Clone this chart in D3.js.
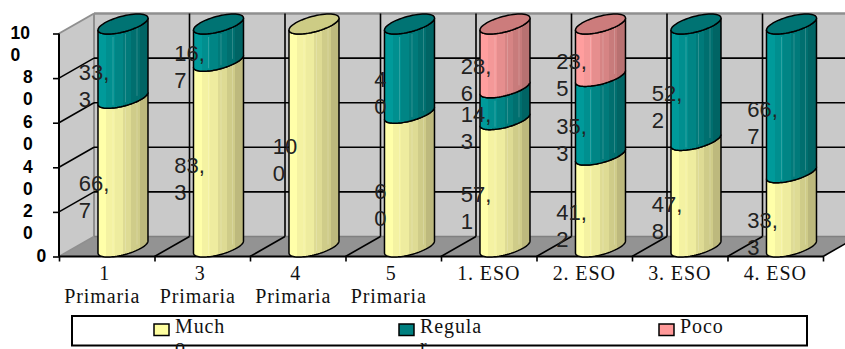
<!DOCTYPE html>
<html><head><meta charset="utf-8">
<script src="https://cdn.jsdelivr.net/npm/d3@7"></script>
<style>html,body{margin:0;padding:0;background:#fff;overflow:hidden}svg{display:block}</style>
</head><body><svg id="c" width="845" height="349"></svg>
<script>
const categories=[["1","Primaria"],["3","Primaria"],["4","Primaria"],["5","Primaria"],["1. ESO"],["2. ESO"],["3. ESO"],["4. ESO"]];
const mucho=[66.7,83.3,100,60,57.1,41.2,47.8,33.3];
const regular=[33.3,16.7,0,40,14.3,35.3,52.2,66.7];
const poco=[0,0,0,0,28.6,23.5,0,0];
const seriesNames=[["Much","o"],["Regula","r"],["Poco"]];
const yTicks=[0,20,40,60,80,100];
const labelLines=[[["66,","7"],["83,","3"],["10","0"],["6","0"],["57,","1"],["41,","2"],["47,","8"],["33,","3"]],
 [["33,","3"],["16,","7"],null,["4","0"],["14,","3"],["35,","3"],["52,","2"],["66,","7"]],
 [null,null,null,null,["28,","6"],["23,","5"],null,null]];
const palette=[
 {stops:["#ffffa9","#f4f2a2","#eeec9f","#dedb94","#cfcc89","#bdb97d"],cap:"#cdcc85",sw:"#ffffa0"},
 {stops:["#009a9a","#008f8f","#008585","#007a7a","#006f6f","#006464"],cap:"#007373",sw:"#008080"},
 {stops:["#ff9e9e","#f49898","#e68e8e","#d68484","#c87b7b","#b87171"],cap:"#cc7c7c",sw:"#ff9999"}];

const svg=d3.select("#c");
const DX=35,DY=-20;
const x=d3.scaleBand().domain(d3.range(categories.length)).range([59,823]);
const y=d3.scaleLinear().domain([0,100]).range([256.5,33.5]);
const rows=categories.map((c,i)=>({i,a:mucho[i],b:regular[i],c:poco[i]}));
const stacked=d3.stack().keys(["a","b","c"])(rows);

// gradients
const defs=svg.append("defs");
palette.forEach((p,k)=>{
 const g=defs.append("linearGradient").attr("id","g"+k).attr("x1",0).attr("x2",1).attr("y1",0).attr("y2",0);
 p.stops.forEach((s,j)=>{
  g.append("stop").attr("offset",j/p.stops.length).attr("stop-color",s);
  g.append("stop").attr("offset",(j+1)/p.stops.length).attr("stop-color",s);
 });
});

// walls
const x0=x.range()[0],x1=x.range()[1],yb=y(0),yt=y(100);
const poly=(pts,f)=>svg.append("polygon").attr("points",pts.map(p=>p.join(",")).join(" ")).attr("fill",f);
poly([[x0+DX,yt+DY],[x1+DX,yt+DY],[x1+DX,yb+DY],[x0+DX,yb+DY]],"#c9c9c9");
poly([[x0,yt],[x0+DX,yt+DY],[x0+DX,yb+DY],[x0,yb]],"#c9c9c9");
poly([[x0,yb],[x0+DX,yb+DY],[x1+DX,yb+DY],[x1,yb]],"#939393");
const ln=(a,b,c,d,col,w)=>svg.append("line").attr("x1",a).attr("y1",b).attr("x2",c).attr("y2",d).attr("stroke",col).attr("stroke-width",w);
ln(x0,yt,x0+DX,yt+DY,"#8f8f8f",2);
ln(x0+DX,yt+DY,x1+DX,yt+DY,"#8f8f8f",2.5);
ln(x0+DX,yt+DY,x0+DX,yb+DY,"#8f8f8f",2);
ln(x0,yb,x0+DX,yb+DY,"#8f8f8f",1.5);
ln(x0+DX,yb+DY,x1+DX,yb+DY,"#808080",1.5);
// grid
yTicks.filter(t=>t>0&&t<100).forEach(t=>{
 ln(x0,y(t),x0+DX,y(t)+DY,"#000",1.6);
 ln(x0+DX,y(t)+DY,x1+DX,y(t)+DY,"#000",1.6);
});
d3.range(1,categories.length+1).forEach(i=>{
 const px=x0+x.step()*i;
 if(i<categories.length) ln(px+DX,yt+DY,px+DX,yb+DY,"#000",1.6);
 ln(px,yb,px+DX,yb+DY,"#000",1.6);
});

// axes
const ax=svg.append("g").attr("transform",`translate(${x0},0)`).call(d3.axisLeft(y).tickValues(yTicks).tickSize(6).tickFormat(""));
ax.select(".domain").attr("stroke-width",2).attr("d",`M0,${yt}V${yb}`);
ax.selectAll(".tick line").attr("stroke-width",1.6);
const axb=svg.append("g").attr("transform",`translate(0,${yb})`).call(d3.axisBottom(d3.scaleLinear().domain([0,8]).range([x0,x1])).ticks(8).tickSize(5).tickFormat(""));
axb.select(".domain").attr("stroke-width",2.2).attr("d",`M${x0},0H${x1}`);
axb.selectAll(".tick line").attr("stroke-width",1.6);

const fontY="'Liberation Sans',Arial,sans-serif";
// y tick labels
yTicks.forEach(t=>{
 const s=String(t);
 const sx=t===100?10.5:(t===0?36.5:23);
 const parts=t===0?[s]:[s.slice(0,-1),s.slice(-1)];
 parts.forEach((p,j)=>svg.append("text").attr("x",sx).attr("y",y(t)+5.2+j*22).attr("font-family",fontY).attr("font-weight","bold").attr("font-size",17.5).attr("fill","#000").text(p));
});

// bars
const W=20,DXC=15,DYC=10,OFF=9.5,barC=i=>x(i)+x.step()*0.67;
const pt=(cx,cy,t)=>[cx+W*Math.cos(t)+DXC*Math.sin(t),cy-DYC*Math.sin(t)];
const tL=Math.PI+Math.atan2(DXC,W);
const arc=(cx,cy,a,b,n=40)=>d3.range(n+1).map(k=>pt(cx,cy,a+(b-a)*k/n));
const line=d3.line();
const barG=svg.append("g");
rows.forEach((r,i)=>{
 const cx=barC(i);
 let topK=-1,topV=0;
 stacked.forEach((s,k)=>{
  const d=s[i];
  if(d[1]-d[0]<=0) return;
  topK=k;topV=d[1];
  const lower=v=>arc(cx,y(v)-OFF,tL,tL+Math.PI);
  const bottom=lower(d[0]),upper=lower(d[1]).reverse();
  barG.append("path").attr("d",line(bottom.concat(upper))+"Z").attr("fill",`url(#g${k})`).attr("stroke","#000").attr("stroke-width",1.5);
  [0.3,0.55,0.78].forEach(f=>{
   const bx=cx-25+50*f;
   barG.append("line").attr("x1",bx).attr("x2",bx).attr("y1",upper[Math.round(40-40*f)][1]+3).attr("y2",bottom[Math.round(40*f)][1]-3).attr("stroke","#fff").attr("stroke-opacity",0.18).attr("stroke-width",1);
  });
 });
 barG.append("path").attr("d",line(arc(cx,y(topV)-OFF,0,2*Math.PI,60))+"Z").attr("fill",palette[topK].cap).attr("stroke","#000").attr("stroke-width",1.5);
});

// data labels
stacked.forEach((s,k)=>{
 rows.forEach((r,i)=>{
  const d=s[i],L=labelLines[k][i];
  if(!L) return;
  const base=y((d[0]+d[1])/2)+9;
  const els=L.map((t,j)=>svg.append("text").attr("y",base+j*27).attr("font-family",fontY).attr("font-size",22).attr("fill","#222").text(t));
  const w=els[0].node().getComputedTextLength();
  els.forEach(e=>e.attr("x",barC(i)-29-w/2));
 });
});

// category labels
const serif="'Liberation Serif',serif";
categories.forEach((c,i)=>{
 const mid=x(i)+x.bandwidth()/2;
 c.forEach((t,j)=>svg.append("text").attr("x",c.length===2?(j===0?mid-2:mid-4.5):mid).attr("y",280+j*23).attr("text-anchor","middle").attr("font-family",serif).attr("font-size",20).attr("letter-spacing",0.9).attr("fill","#111").text(t));
});

// legend
svg.append("rect").attr("x",72).attr("y",316).attr("width",735).attr("height",29.5).attr("fill","#fff").attr("stroke","#000").attr("stroke-width",2);
const legX=d3.scaleOrdinal().domain([0,1,2]).range([154,399,659]);
seriesNames.forEach((nm,k)=>{
 const lx=legX(k);
 svg.append("rect").attr("x",lx).attr("y",324).attr("width",15).attr("height",11.5).attr("fill",palette[k].sw).attr("stroke","#000").attr("stroke-width",1.5);
 nm.forEach((t,j)=>svg.append("text").attr("x",lx+21).attr("y",333+j*19.5).attr("font-family",serif).attr("font-size",20).attr("letter-spacing",0.9).attr("fill","#111").text(t));
});
</script></body></html>
